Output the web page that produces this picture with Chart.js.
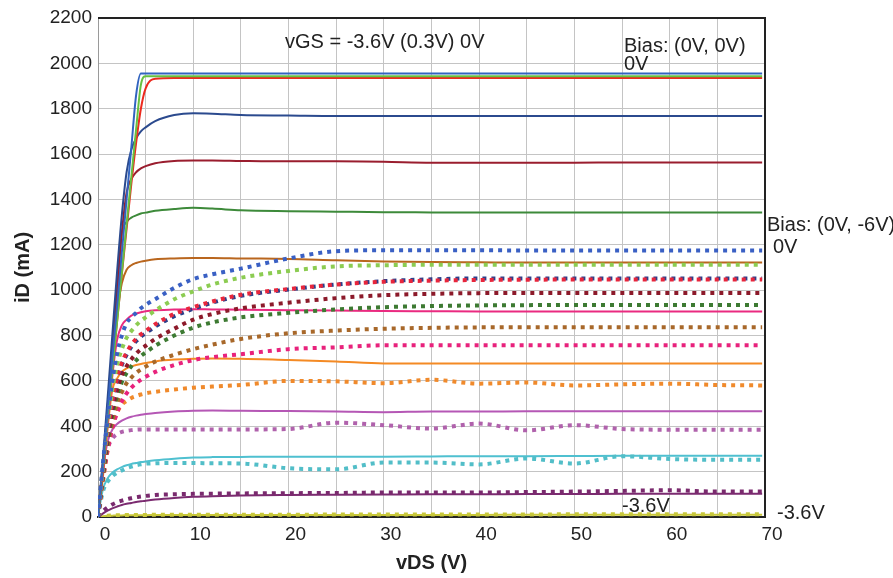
<!DOCTYPE html>
<html>
<head>
<meta charset="utf-8">
<script src="https://cdn.jsdelivr.net/npm/chart.js@4.4.1/dist/chart.umd.min.js"></script>
<style>
  html, body { margin: 0; padding: 0; background: #ffffff; }
  #wrap { width: 893px; height: 578px; }
</style>
</head>
<body>
<div id="wrap"><canvas id="c" width="893" height="578"></canvas></div>
<script>
// ---- Data ----
const vds = [0,0.5,1,1.5,2,2.5,3,3.5,4,4.5,5,6,8,10,12,15,20,25,30,35,40,45,50,55,60,65,69.7];
const vgsLabels = ['0V','-0.3V','-0.6V','-0.9V','-1.2V','-1.5V','-1.8V','-2.1V','-2.4V','-2.7V','-3.0V','-3.3V','-3.6V'];
const xTickLabels = ['0','10','20','30','40','50','60','70'];
const yTickLabels = ['0','200','400','600','800','1000','1200','1400','1600','1800','2000','2200'];

// Bias (0V, 0V) – solid lines, iD in mA
const solid_0   = [0,230,465,700,930,1165,1400,1630,1860,1955,1955,1955,1955,1955,1955,1955,1955,1955,1955,1955,1955,1955,1955,1955,1955,1955,1955];
const solid_m03 = [0,215,430,645,860,1075,1290,1500,1710,1905,1943,1943,1943,1943,1943,1943,1943,1943,1943,1943,1943,1943,1943,1943,1943,1943,1943];
const solid_m06 = [0,220,440,650,860,1070,1270,1470,1650,1800,1890,1932,1935,1935,1935,1935,1935,1935,1935,1935,1935,1935,1935,1935,1935,1935,1935];
const solid_m09 = [0,250,520,800,1080,1330,1520,1620,1670,1700,1718,1745,1772,1780,1778,1772,1770,1768,1768,1768,1768,1768,1768,1768,1768,1768,1768];
const solid_m12 = [0,230,480,740,1000,1250,1430,1490,1520,1537,1547,1560,1570,1572,1572,1570,1568,1568,1566,1562,1562,1562,1562,1563,1563,1563,1563];
const solid_m15 = [0,220,460,720,990,1250,1300,1320,1330,1338,1342,1350,1358,1363,1360,1352,1348,1346,1344,1343,1342,1342,1342,1342,1342,1342,1342];
const solid_m18 = [0,200,450,700,900,1030,1090,1110,1120,1126,1130,1136,1140,1142,1142,1140,1138,1132,1127,1124,1123,1122,1122,1122,1122,1122,1122];
const solid_m21 = [0,180,400,620,780,845,870,888,897,903,907,911,915,916,915,914,912,910,908,907,906,906,906,906,906,906,906];
const solid_m24 = [0,170,390,560,610,640,655,664,670,675,679,686,694,698,699,698,692,686,677,677,677,677,677,677,677,677,677];
const solid_m27 = [0,200,330,385,410,425,435,442,447,451,454,459,465,468,469,468,467,465,462,465,465,466,466,466,466,466,466];
const solid_m30 = [0,120,170,195,210,220,228,234,238,242,245,250,257,262,264,265,266,266,266,267,268,268,269,270,270,270,270];
const solid_m33 = [0,15,28,38,46,53,58,62,66,69,72,77,84,89,92,95,97,98,99,100,100,101,101,102,102,102,102];
const solid_m36 = [0,3,5,6,7,7,8,8,8,8,8,9,9,9,9,9,9,9,9,9,9,10,10,10,10,10,10];

// Bias (0V, -6V) – dotted lines, iD in mA
const dot_0   = [0,230,430,600,720,800,855,880,900,920,935,960,1010,1049,1070,1095,1140,1172,1176,1176,1176,1175,1175,1175,1175,1175,1175];
const dot_m03 = [0,210,400,560,670,740,790,820,845,865,880,910,960,995,1025,1055,1085,1105,1110,1112,1112,1112,1112,1112,1112,1112,1112];
const dot_m06 = [0,200,370,510,610,680,725,760,785,805,820,850,895,925,950,980,1005,1025,1037,1042,1045,1046,1047,1047,1047,1047,1047];
const dot_m09 = [0,195,360,500,600,670,715,750,775,795,810,840,885,918,945,975,1003,1025,1040,1048,1052,1052,1052,1052,1052,1052,1052];
const dot_m12 = [0,190,345,470,560,625,665,695,720,740,755,785,830,870,895,920,945,965,978,984,987,988,988,988,988,988,988];
const dot_m15 = [0,180,330,450,535,595,635,665,690,710,725,755,800,835,858,880,900,915,925,930,933,934,935,935,935,935,935];
const dot_m18 = [0,170,310,420,500,550,590,615,635,650,663,685,715,740,760,785,810,822,830,834,836,837,837,837,837,837,837];
const dot_m21 = [0,160,290,390,460,510,545,570,590,605,618,640,670,692,705,718,740,748,757,757,757,757,757,757,757,757,757];
const dot_m24 = [0,150,300,400,460,495,512,525,533,540,545,552,562,570,575,582,600,598,590,605,588,593,580,585,588,582,580];
const dot_m27 = [0,180,300,345,365,375,380,383,385,386,386,386,386,386,386,386,388,416,405,390,412,382,405,388,385,385,385];
const dot_m30 = [0,110,155,180,195,205,215,222,228,232,235,237,238,238,237,236,215,210,240,240,232,258,236,268,256,252,252];
const dot_m33 = [0,25,42,55,65,72,78,83,87,90,93,97,100,102,103,104,105,106,108,108,108,110,112,115,118,112,112];
const dot_m36 = [0,4,6,7,8,8,9,9,9,9,9,10,10,10,10,10,10,11,11,11,11,11,12,12,12,12,12];

const solidSeries = [solid_0, solid_m03, solid_m06, solid_m09, solid_m12, solid_m15, solid_m18, solid_m21, solid_m24, solid_m27, solid_m30, solid_m33, solid_m36];
const dotSeries   = [dot_0, dot_m03, dot_m06, dot_m09, dot_m12, dot_m15, dot_m18, dot_m21, dot_m24, dot_m27, dot_m30, dot_m33, dot_m36];

const solidColors = ['#3264c0','#66c142','#ec2a1e','#2b4a8e','#9a1d2e','#3d8a3a','#b9661e','#ea2a80','#f48a24','#b557b5','#4fc0d0','#7b2b70','#c9c83a'];
const dotColors   = ['#3a60c4','#8ccc52','#e8263c','#2c3f8a','#8c1a2a','#3d7a32','#a8682a','#e8227c','#f08a2c','#b062ac','#52bec8','#7a2a6e','#c8c83c'];

// ---- Build datasets ----
function pts(arr) { return arr.map((v, i) => ({ x: vds[i], y: v })); }
const datasets = [];
dotSeries.forEach((arr, i) => {
  datasets.push({
    label: 'Bias (0V,-6V) vGS=' + vgsLabels[i],
    data: pts(arr),
    showLine: true,
    borderColor: dotColors[i],
    backgroundColor: dotColors[i],
    borderWidth: 4,
    borderDash: [4, 5],
    borderCapStyle: 'butt',
    pointRadius: 0,
    cubicInterpolationMode: 'monotone',
    fill: false
  });
});
solidSeries.forEach((arr, i) => {
  datasets.push({
    label: 'Bias (0V,0V) vGS=' + vgsLabels[i],
    data: pts(arr),
    showLine: true,
    borderColor: solidColors[i],
    backgroundColor: solidColors[i],
    borderWidth: 2,
    pointRadius: 0,
    cubicInterpolationMode: 'monotone',
    fill: false
  });
});

const FONT = '"Liberation Sans", Arial, sans-serif';

const annotations = {
  id: 'annotations',
  afterDatasetsDraw(chart) {
    const ctx = chart.ctx;
    const a = chart.chartArea;
    ctx.save();
    ctx.strokeStyle = '#222';
    ctx.lineWidth = 2;
    ctx.beginPath();
    ctx.moveTo(a.left, a.top);
    ctx.lineTo(a.right, a.top);
    ctx.lineTo(a.right, a.bottom);
    ctx.stroke();
    ctx.restore();
  },
  afterDraw(chart) {
    const ctx = chart.ctx;
    ctx.save();
    ctx.fillStyle = '#222';
    ctx.textBaseline = 'middle';
    ctx.textAlign = 'left';
    ctx.font = '20px ' + FONT;
    ctx.fillText('vGS = -3.6V (0.3V) 0V', 285, 42);
    ctx.fillText('Bias: (0V, 0V)', 624, 46);
    ctx.fillText('0V', 624, 64);
    ctx.fillText('Bias: (0V, -6V)', 767, 225);
    ctx.fillText('0V', 773, 247);
    ctx.fillText('-3.6V', 622, 506);
    ctx.fillText('-3.6V', 777, 513);
    ctx.restore();
  }
};

new Chart(document.getElementById('c'), {
  type: 'scatter',
  data: { datasets },
  plugins: [annotations],
  options: {
    responsive: false,
    animation: false,
    layout: { padding: { left: 0, right: 128, top: 18, bottom: 0 } },
    plugins: { legend: { display: false }, tooltip: { enabled: false }, title: { display: false } },
    scales: {
      x: {
        type: 'linear',
        min: 0, max: 70,
        afterFit(s) { s.height = 61; },
        grid: { color: '#c4c4c4', lineWidth: 1, drawTicks: false },
        border: { color: '#222', width: 2 },
        ticks: {
          stepSize: 5,
          padding: 6,
          labelOffset: 7,
          color: '#222',
          font: { family: FONT, size: 19 },
          maxRotation: 0,
          autoSkip: false,
          callback(v) {
            const idx = xTickLabels.indexOf(String(v));
            return idx >= 0 ? xTickLabels[idx] : '';
          }
        },
        title: {
          display: true,
          text: 'vDS (V)',
          color: '#222',
          font: { family: FONT, size: 20, weight: 'bold' },
          padding: { top: 0, bottom: 3 }
        }
      },
      y: {
        type: 'linear',
        min: 0, max: 2200,
        afterFit(s) { s.width = 98; },
        grid: { color: '#c4c4c4', lineWidth: 1, drawTicks: false },
        border: { color: '#9a9a9a', width: 1 },
        ticks: {
          stepSize: 200,
          padding: 6,
          color: '#222',
          font: { family: FONT, size: 19 },
          callback(v) {
            const idx = yTickLabels.indexOf(String(v));
            return idx >= 0 ? yTickLabels[idx] : '';
          }
        },
        title: {
          display: true,
          text: 'iD (mA)',
          color: '#222',
          font: { family: FONT, size: 20, weight: 'bold' },
          padding: { top: 11, bottom: 0 }
        }
      }
    }
  }
});
</script>
</body>
</html>
